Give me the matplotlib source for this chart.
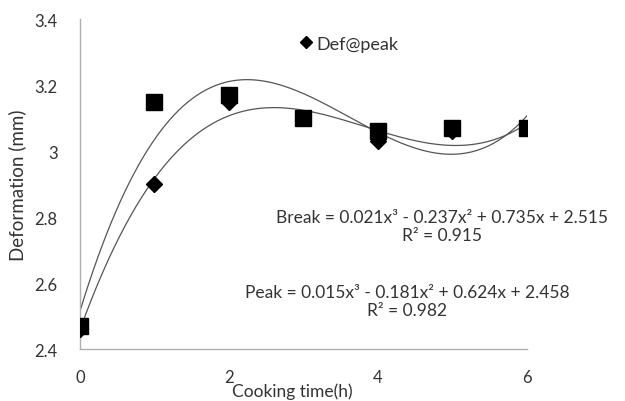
import numpy as np
import matplotlib.pyplot as plt

plt.rcParams["font.family"] = ["Lato", "DejaVu Sans"]

# cooking time (h) and deformation (mm)
hours = [0, 1, 2, 3, 4, 5, 6]
def_peak = [2.46, 2.90, 3.15, 3.10, 3.03, 3.06, 3.07]
def_break = [2.47, 3.15, 3.17, 3.10, 3.06, 3.07, 3.07]

# cubic trendline equations as reported (highest power first)
break_coef = [0.021, -0.237, 0.735, 2.515]
peak_coef = [0.015, -0.181, 0.624, 2.458]
break_r2 = 0.915
peak_r2 = 0.982

fig = plt.figure(figsize=(6.25, 4.02), dpi=100)
ax = fig.add_axes([0.128, 0.129, 0.715, 0.821])

ax.plot(hours, def_peak, linestyle="none", marker="D", markersize=8,
        color="black", label="Def@peak", zorder=3)
ax.plot(hours, def_break, linestyle="none", marker="s", markersize=11.5,
        color="black", zorder=3)

# trendlines: cubic least-squares fit through each series
xs = np.linspace(0, 6, 200)
for series in (def_break, def_peak):
    fit = np.polyfit(hours, series, 3)
    ax.plot(xs, np.polyval(fit, xs), color="#555555", linewidth=0.9, zorder=2)

ax.set_xlim(0, 6)
ax.set_ylim(2.4, 3.4)
ax.set_xticks([0, 2, 4, 6])
ax.set_yticks([2.4, 2.6, 2.8, 3.0, 3.2, 3.4])
ax.set_yticklabels(["2.4", "2.6", "2.8", "3", "3.2", "3.4"])
ax.tick_params(length=0, labelsize=12, colors="#333333", pad=16)
ax.tick_params(axis="x", pad=14)

for side in ("top", "right"):
    ax.spines[side].set_visible(False)
for side in ("left", "bottom"):
    ax.spines[side].set_color("#b0b0b0")
    ax.spines[side].set_linewidth(1.0)

ax.set_ylabel("Deformation (mm)", fontsize=13.5, color="#333333", labelpad=6)
ax.set_xlabel("Cooking time(h)", fontsize=12.5, color="#333333")
ax.xaxis.label.set_verticalalignment("baseline")
ax.xaxis.set_label_coords(0.474, -0.141)


def equation(name, coef, r2):
    a, b, c, d = coef
    return (f"{name} = {a:.3f}x\u00b3 - {abs(b):.3f}x\u00b2 + {c:.3f}x + {d:.3f}\n"
            f"R\u00b2 = {r2:.3f}")


ax.text(4.86, 2.825, equation("Break", break_coef, break_r2), ha="center",
        va="top", fontsize=12.5, color="#333333", linespacing=1.15)
ax.text(4.39, 2.597, equation("Peak", peak_coef, peak_r2), ha="center",
        va="top", fontsize=12.5, color="#333333", linespacing=1.15)

ax.legend(loc="upper left", bbox_to_anchor=(0.461, 0.977), frameon=False,
          fontsize=13, handletextpad=0.0, borderpad=0, markerscale=0.8,
          handlelength=1.2, labelcolor="#333333")

fig.savefig("out.png", dpi=100)
